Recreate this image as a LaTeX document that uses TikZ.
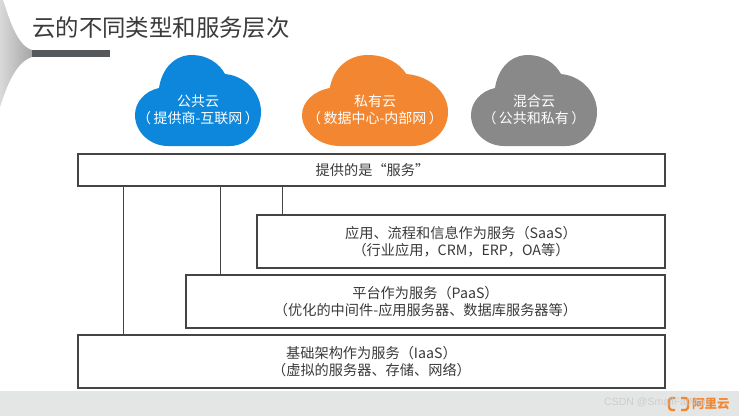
\documentclass[tikz,border=0pt]{standalone}
\usepackage{fontspec}
\setmainfont{Noto Sans CJK SC}
\newfontfamily\wmfont{Liberation Sans}
\definecolor{cloudblue}{HTML}{0D87DC}
\definecolor{cloudorange}{HTML}{F38631}
\definecolor{cloudgrey}{HTML}{898989}
\definecolor{barcol}{HTML}{55595B}
\definecolor{bandcol}{HTML}{E4E6E5}
\definecolor{boxline}{HTML}{444444}
\definecolor{txt}{HTML}{3A3A3A}
\tikzset{
  pics/cloudshape/.style={code={
    \fill[#1] (33,91) .. controls (15,91) and (0,77) .. (0,60)
      .. controls (0,47) and (10,36) .. (24,33)
      .. controls (27,13) and (40,0) .. (57,0)
      .. controls (72,0) and (84,8) .. (90,19)
      .. controls (111,21) and (126,38) .. (126,57)
      .. controls (126,77) and (111,91) .. (95,91) -- cycle;
  }},
  cloudtext/.style={text=white,align=center,inner sep=0pt,font=\fontsize{14}{17}\selectfont},
  layerbox/.style={draw=boxline,line width=1.3pt,fill=white,inner sep=0pt,text=txt,align=center,font=\fontsize{14.2}{17.5}\selectfont},
  link/.style={draw=boxline,line width=1.1pt}
}
\begin{document}
\begin{tikzpicture}[x=1pt,y=-1pt]
\useasboundingbox (0,0) rectangle (739,416);
\fill[white] (0,0) rectangle (739,416);
\fill[bandcol] (0,391) rectangle (739,416);
% corner ornament
\shade[left color=gray!30,right color=gray!70,shading angle=90] (0,0) -- (3,0)
  .. controls (10,22) and (18,46) .. (32,50) -- (32,57)
  .. controls (16,62) and (7,85) .. (0,107) -- cycle;
\fill[barcol] (32,50) rectangle (110,57);
\node[anchor=west,inner sep=0pt,text=txt,font=\fontsize{23.4}{28}\selectfont] (title) at (32,28) {云的不同类型和服务层次};
% clouds
\pic at (135,55) {cloudshape=cloudblue};
\pic[xscale=1.159] at (302,55) {cloudshape=cloudorange};
\pic at (471,55) {cloudshape=cloudgrey};
\node[cloudtext] (pub) at (198,110) {公共云\\（\,提供商-互联网\,）};
\node[cloudtext] (pri) at (375,110) {私有云\\（\,数据中心-内部网\,）};
\node[cloudtext] (mix) at (534,110) {混合云\\（\,公共和私有\,）};
% boxes
\node[layerbox,minimum width=587pt,minimum height=32pt] (top) at (371.5,170) {\hspace*{2pt}提供的是“服务”};
\node[layerbox,minimum width=408pt,minimum height=53pt] (saas) at (461,241.5) {应用、流程和信息作为服务（SaaS）\\（行业应用，CRM，ERP，OA等）};
\node[layerbox,minimum width=479pt,minimum height=53pt] (paas) at (425.5,301.5) {平台作为服务（PaaS）\\（优化的中间件-应用服务器、数据库服务器等）};
\node[layerbox,minimum width=587pt,minimum height=53pt] (iaas) at (371.5,361.5) {基础架构作为服务（IaaS）\\（虚拟的服务器、存储、网络）};
% connectors
\draw[link] ([xshift=46pt]top.south west) coordinate (ca) -- (ca |- iaas.north);
\draw[link] ([xshift=143pt]top.south west) coordinate (cb) -- (cb |- paas.north);
\draw[link] ([xshift=205pt]top.south west) coordinate (cc) -- (cc |- saas.north);
% logo and watermark
\draw[cloudorange,line width=2.4pt,rounded corners=3pt] (675,398) -- (669,398) -- (669,410) -- (675,410);
\draw[cloudorange,line width=2.4pt,rounded corners=3pt] (681,398) -- (688,398) -- (688,410) -- (681,410);
\node[anchor=west,inner sep=0pt,text=cloudorange,font=\fontsize{12.5}{14}\selectfont\bfseries] (logo) at (692,404) {阿里云};
\node[anchor=west,inner sep=0pt,text=gray!45,opacity=0.8,font=\wmfont\fontsize{10.5}{12}\selectfont] (wm) at (604,402) {CSDN @SmallFatMan};
\end{tikzpicture}
\end{document}
